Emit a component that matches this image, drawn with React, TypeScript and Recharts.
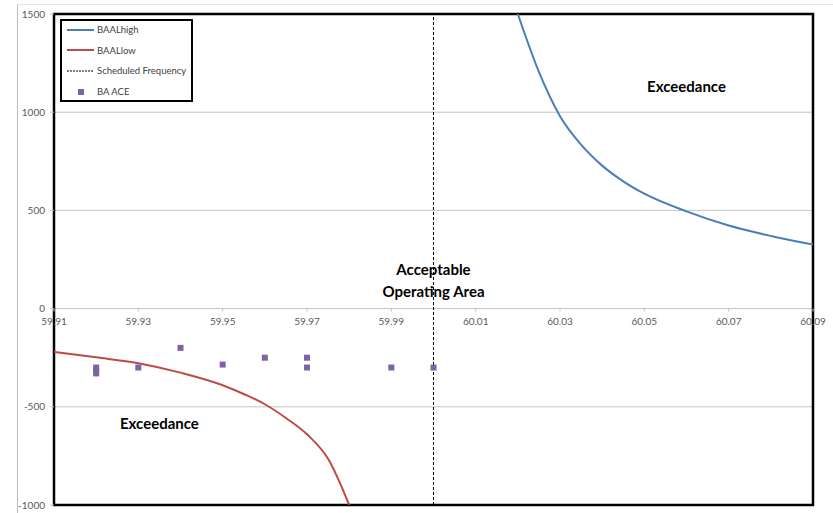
import React from 'react';
import {
  ComposedChart,
  Line,
  Scatter,
  XAxis,
  YAxis,
  CartesianGrid,
  ReferenceLine,
  ReferenceArea,
  ReferenceDot,
} from 'recharts';

// BAAL high limit (frequency, MW)
const highFreq = [60.02, 60.025, 60.03, 60.035, 60.04, 60.045, 60.05, 60.06, 60.07, 60.08, 60.09];
const highValues = [1500, 1205, 980, 835, 728, 648, 585, 495, 423, 370, 326];

// BAAL low limit
const lowFreq = [59.91, 59.92, 59.93, 59.94, 59.95, 59.955, 59.96, 59.965, 59.97, 59.975, 59.98];
const lowValues = [-220, -248, -278, -326, -390, -435, -487, -557, -640, -765, -1000];

// BA ACE observations
const aceFreq = [59.92, 59.92, 59.92, 59.93, 59.94, 59.95, 59.96, 59.97, 59.97, 59.99, 60.0];
const aceValues = [-300, -315, -330, -300, -200, -285, -250, -250, -300, -300, -300];

const xTicks = [59.91, 59.93, 59.95, 59.97, 59.99, 60.01, 60.03, 60.05, 60.07, 60.09];
const yTicks = [-1000, -500, 0, 500, 1000, 1500];
const scheduledFreq = 60.0;

const highData = highFreq.map((f, i) => ({ f, v: highValues[i] }));
const lowData = lowFreq.map((f, i) => ({ f, v: lowValues[i] }));
const aceData = aceFreq.map((f, i) => ({ f, v: aceValues[i] }));

// text annotations, placed in data coordinates
const notes = [
  { f: 60.06, v: 1130, text: 'Exceedance' },
  { f: 60.0, v: 200, text: 'Acceptable' },
  { f: 60.0, v: 88, text: 'Operating Area' },
  { f: 59.935, v: -585, text: 'Exceedance' },
];

const BLUE = '#4A7EBB';
const RED = '#BE4B48';
const PURPLE = '#7F62A1';
const GRID = '#c4c4c4';
const LABEL = '#595959';

const legendItems = [
  { name: 'BAALhigh', kind: 'line', color: BLUE },
  { name: 'BAALlow', kind: 'line', color: RED },
  { name: 'Scheduled Frequency', kind: 'dash', color: '#000' },
  { name: 'BA ACE', kind: 'square', color: PURPLE },
];

const Square = (props: any) => {
  const { cx, cy } = props;
  if (cx == null || cy == null) return null;
  return <rect x={cx - 3} y={cy - 3} width={6} height={6} fill={PURPLE} />;
};

const App: React.FC = () => {
  return (
    <div
      style={{
        position: 'relative',
        width: 833,
        height: 513,
        fontFamily: 'Lato, "Open Sans", sans-serif',
        background: '#fff',
      }}
    >
      <style>{'body{margin:0}'}</style>
      {/* outer chart area border (cropped) */}
      <div
        style={{
          position: 'absolute',
          left: 17,
          top: 4,
          right: 0,
          bottom: 0,
          borderLeft: '1px solid #bdbdbd',
          borderTop: '1px solid #e6e6e6',
        }}
      />
      <div style={{ position: 'absolute', left: 0, top: 0 }}>
        <ComposedChart
          width={833}
          height={513}
          margin={{ top: 14, right: 20, bottom: 8, left: 14 }}
        >
          <CartesianGrid vertical={false} stroke={GRID} />
          <XAxis
            type="number"
            dataKey="f"
            domain={[59.91, 60.09]}
            ticks={xTicks}
            allowDataOverflow
            hide
            height={0}
          />
          <YAxis
            type="number"
            dataKey="v"
            domain={[-1000, 1500]}
            ticks={yTicks}
            allowDataOverflow
            width={40}
            axisLine={false}
            tickLine={{ stroke: GRID }}
            tickSize={4}
            tickMargin={5}
            tick={{ fontSize: 10, fill: LABEL }}
          />
          {xTicks.map((t) => (
            <ReferenceLine
              key={'tm' + t}
              segment={[{ x: t, y: 0 }, { x: t, y: -15 }]}
              stroke={GRID}
            />
          ))}
          {xTicks.map((t) => (
            <ReferenceDot
              key={'tl' + t}
              x={t}
              y={0}
              r={0}
              fill="none"
              stroke="none"
              label={{ value: t.toFixed(2), position: 'bottom', offset: 9, fontSize: 10, fill: LABEL }}
            />
          ))}
          <ReferenceLine x={scheduledFreq} stroke="#000" strokeDasharray="3 2" strokeWidth={1} />
          <Line
            data={highData}
            dataKey="v"
            type="monotone"
            stroke={BLUE}
            strokeWidth={2}
            dot={false}
            isAnimationActive={false}
          />
          <Line
            data={lowData}
            dataKey="v"
            type="monotone"
            stroke={RED}
            strokeWidth={2}
            dot={false}
            isAnimationActive={false}
          />
          <Scatter data={aceData} dataKey="v" shape={Square} isAnimationActive={false} />
          {notes.map((n, i) => (
            <ReferenceDot
              key={'n' + i}
              x={n.f}
              y={n.v}
              r={0}
              fill="none"
              stroke="none"
              label={{ value: n.text, position: 'center', fontSize: 15, fontWeight: 700, fill: '#000' }}
            />
          ))}
          <ReferenceArea
            x1={59.91}
            x2={60.09}
            y1={-1000}
            y2={1500}
            fill="none"
            stroke="#000"
            strokeWidth={2.5}
            fillOpacity={0}
          />
        </ComposedChart>
      </div>
      {/* legend box */}
      <div
        style={{
          position: 'absolute',
          left: 60,
          top: 19,
          width: 129,
          height: 79,
          border: '2px solid #000',
          background: '#fff',
          fontSize: 9.5,
          color: '#404040',
        }}
      >
        {legendItems.map((it, i) => (
          <div
            key={it.name}
            style={{
              position: 'absolute',
              left: 5,
              top: i * 20.7 - 1.5,
              height: 20,
              display: 'flex',
              alignItems: 'center',
              whiteSpace: 'nowrap',
            }}
          >
            <svg width={27} height={10} style={{ marginRight: 3 }}>
              {it.kind === 'line' && (
                <line x1={0} y1={5} x2={27} y2={5} stroke={it.color} strokeWidth={2} />
              )}
              {it.kind === 'dash' && (
                <line x1={0} y1={5} x2={27} y2={5} stroke={it.color} strokeWidth={1} strokeDasharray="2 1" />
              )}
              {it.kind === 'square' && <rect x={11} y={2} width={6} height={6} fill={it.color} />}
            </svg>
            <span>{it.name}</span>
          </div>
        ))}
      </div>
    </div>
  );
};

export default App;
